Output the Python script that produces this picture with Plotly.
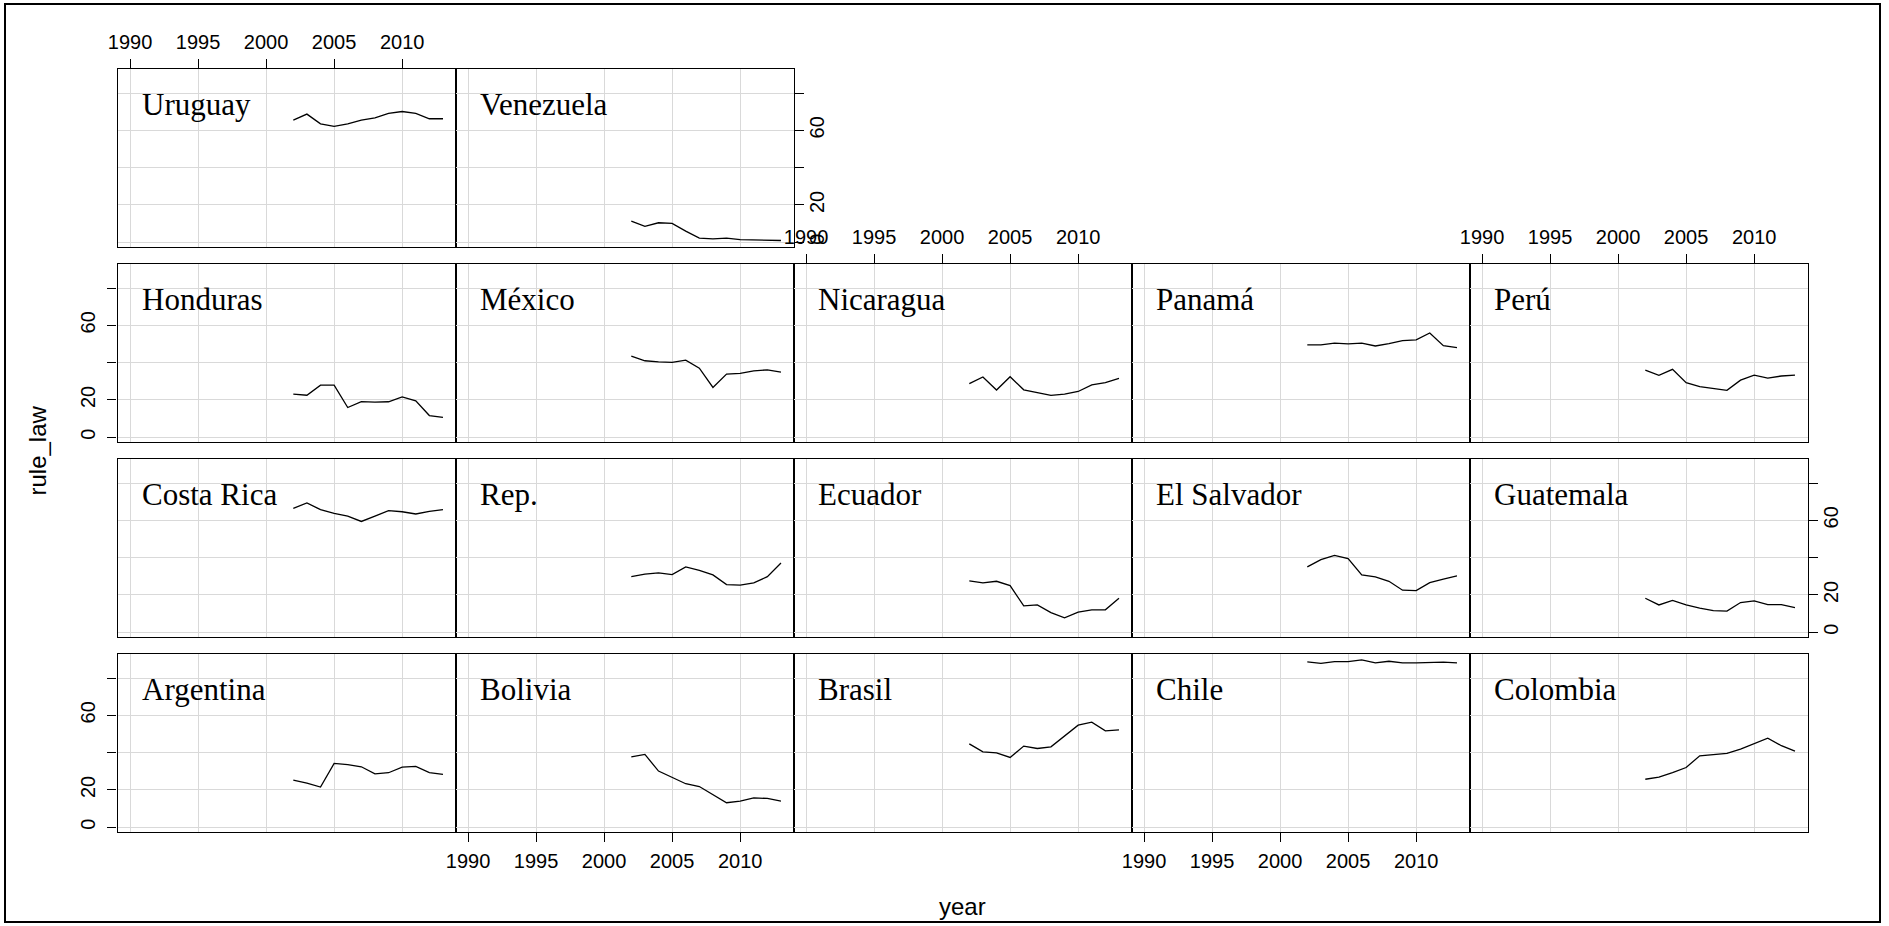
import plotly.graph_objects as go

# rule of law percentile rank, 2002-2013
years = list(range(2002, 2014))

argentina = [25.2, 23.6, 21.5, 34.2, 33.5, 32.4, 28.6, 29.2, 32.2, 32.6, 29.3, 28.3]
bolivia = [37.7, 39.0, 30.1, 26.7, 23.3, 21.8, 17.4, 13.1, 14.0, 15.7, 15.4, 14.0]
brasil = [44.7, 40.4, 39.9, 37.4, 43.5, 42.2, 43.1, 48.8, 54.7, 56.3, 51.7, 52.2]
chile = [88.7, 87.9, 88.8, 88.8, 89.7, 88.1, 89.0, 88.1, 88.1, 88.5, 88.5, 88.1]
colombia = [25.7, 26.8, 29.3, 32.0, 38.3, 38.8, 39.6, 41.9, 44.8, 47.7, 43.7, 40.8]
costa_rica = [66.4, 69.3, 65.7, 63.7, 62.3, 59.4, 62.3, 65.2, 64.6, 63.4, 64.8, 65.7]
rep_dom = [29.8, 31.1, 31.8, 30.9, 35.0, 33.2, 30.7, 25.5, 25.2, 26.4, 29.8, 37.1]
ecuador = [27.5, 26.4, 27.3, 25.0, 14.1, 14.6, 10.5, 7.7, 10.7, 12.0, 12.0, 18.2]
el_salvador = [35.0, 38.9, 41.2, 39.5, 30.7, 29.6, 27.3, 22.5, 22.3, 26.6, 28.4, 30.2]
guatemala = [18.2, 14.6, 17.0, 14.6, 12.9, 11.6, 11.3, 15.9, 16.8, 14.8, 14.8, 13.2]
honduras = [23.1, 22.5, 27.9, 27.9, 15.9, 19.1, 18.8, 19.0, 21.6, 19.5, 11.6, 10.6]
mexico = [43.5, 41.0, 40.4, 40.1, 41.3, 37.0, 26.7, 33.8, 34.2, 35.6, 36.1, 34.9]
nicaragua = [28.7, 32.3, 25.3, 32.4, 25.4, 24.0, 22.4, 23.1, 24.5, 28.0, 29.2, 31.5]
panama = [49.5, 49.5, 50.4, 50.0, 50.4, 48.9, 50.2, 51.8, 52.2, 55.9, 49.1, 48.0]
peru = [36.0, 33.2, 36.4, 29.2, 27.1, 26.0, 25.1, 30.6, 33.3, 31.7, 32.8, 33.3]
uruguay = [65.5, 68.7, 63.5, 62.1, 63.5, 65.5, 66.7, 69.1, 70.1, 69.1, 66.2, 66.2]
venezuela = [11.3, 8.5, 10.4, 10.1, 5.9, 2.2, 1.8, 2.2, 1.4, 1.3, 1.0, 0.9]

series = {
    "Argentina": argentina, "Bolivia": bolivia, "Brasil": brasil, "Chile": chile,
    "Colombia": colombia, "Costa Rica": costa_rica, "Rep.": rep_dom,
    "Ecuador": ecuador, "El Salvador": el_salvador, "Guatemala": guatemala,
    "Honduras": honduras, "México": mexico, "Nicaragua": nicaragua,
    "Panamá": panama, "Perú": peru, "Uruguay": uruguay, "Venezuela": venezuela,
}

xticks = [1990, 1995, 2000, 2005, 2010]
yticks = [0, 20, 40, 60, 80]
ylabels = ["0", "20", "", "60", ""]

# lattice panel order, top row first
grid_rows = [
    ["Uruguay", "Venezuela"],
    ["Honduras", "México", "Nicaragua", "Panamá", "Perú"],
    ["Costa Rica", "Rep.", "Ecuador", "El Salvador", "Guatemala"],
    ["Argentina", "Bolivia", "Brasil", "Chile", "Colombia"],
]
top_x = {"Uruguay", "Nicaragua", "Perú"}
bottom_x = {"Bolivia", "Chile"}
left_y = {"Honduras", "Argentina"}
right_y = {"Venezuela", "Guatemala"}

W, H = 1889, 926
PX0, PW = 117.5, 338
PY0, PH, PSTEP = 69, 178, 195
XR = [1989.08, 2013.92]
YR = [-2.6, 92.9]
GRID = "#d9d9d9"
TICKFONT = dict(family="Liberation Sans, Arial, sans-serif", size=20, color="black")

fig = go.Figure()
layout = {}
annotations = []
i = 0
for r, row in enumerate(grid_rows):
    for c, name in enumerate(row):
        i += 1
        sfx = "" if i == 1 else str(i)
        x0 = (PX0 + PW * c) / W
        x1 = (PX0 + PW * (c + 1)) / W
        top = PY0 + PSTEP * r
        y1 = 1 - top / H
        y0 = 1 - (top + PH) / H

        xa = dict(domain=[x0, x1], range=XR, anchor="y" + sfx, tickvals=xticks,
                  showgrid=True, gridcolor=GRID, gridwidth=1.3, zeroline=False,
                  showline=True, linecolor="black", linewidth=1.2, mirror=True,
                  ticks="", showticklabels=False, fixedrange=True, tickfont=TICKFONT,
                  automargin=False)
        if name in top_x:
            xa.update(side="top", ticks="outside", ticklen=9, tickwidth=1.2,
                      tickcolor="black", showticklabels=True, ticklabelstandoff=2)
        elif name in bottom_x:
            xa.update(side="bottom", ticks="outside", ticklen=9, tickwidth=1.2,
                      tickcolor="black", showticklabels=True, ticklabelstandoff=2)

        ya = dict(domain=[y0, y1], range=YR, anchor="x" + sfx, tickvals=yticks,
                  ticktext=ylabels, showgrid=True, gridcolor=GRID, gridwidth=1.3,
                  zeroline=False, showline=True, linecolor="black", linewidth=1.2,
                  mirror=True, ticks="", showticklabels=False, fixedrange=True,
                  tickfont=TICKFONT, tickangle=-90, automargin=False)
        if name in left_y:
            ya.update(side="left", ticks="outside", ticklen=9, tickwidth=1.2,
                      tickcolor="black", showticklabels=True, ticklabelstandoff=4)
        elif name in right_y:
            ya.update(side="right", ticks="outside", ticklen=9, tickwidth=1.2,
                      tickcolor="black", showticklabels=True, ticklabelstandoff=-4)

        layout["xaxis" + sfx] = xa
        layout["yaxis" + sfx] = ya

        fig.add_trace(go.Scatter(x=years, y=series[name], xaxis="x" + sfx, yaxis="y" + sfx,
                                 mode="lines", line=dict(color="black", width=1.3),
                                 name=name, showlegend=False))

        annotations.append(dict(text=name, xref=f"x{sfx} domain", yref=f"y{sfx} domain",
                                x=22 / PW, y=1 - 35 / PH, xanchor="left", yanchor="middle",
                                showarrow=False,
                                font=dict(family="Liberation Serif, Times New Roman, serif",
                                          size=31, color="black")))

# axis titles
annotations.append(dict(text="rule_law", xref="paper", yref="paper", x=37 / W,
                        y=1 - 450.5 / H, textangle=-90, showarrow=False,
                        xanchor="center", yanchor="middle",
                        font=dict(family="Liberation Sans, Arial, sans-serif", size=24, color="black")))
annotations.append(dict(text="year", xref="paper", yref="paper", x=962.5 / W,
                        y=1 - 906 / H, showarrow=False, xanchor="center", yanchor="middle",
                        font=dict(family="Liberation Sans, Arial, sans-serif", size=24, color="black")))

fig.update_layout(
    **layout,
    annotations=annotations,
    shapes=[dict(type="rect", xref="paper", yref="paper", x0=5 / W, x1=1880 / W,
                 y0=1 - 922 / H, y1=1 - 4 / H, line=dict(color="black", width=2))],
    width=W, height=H,
    margin=dict(l=0, r=0, t=0, b=0, autoexpand=False),
    plot_bgcolor="white", paper_bgcolor="white",
    showlegend=False,
)

fig.write_html("out.html", config={"displayModeBar": False},
               post_script="document.body.style.margin='0';")
